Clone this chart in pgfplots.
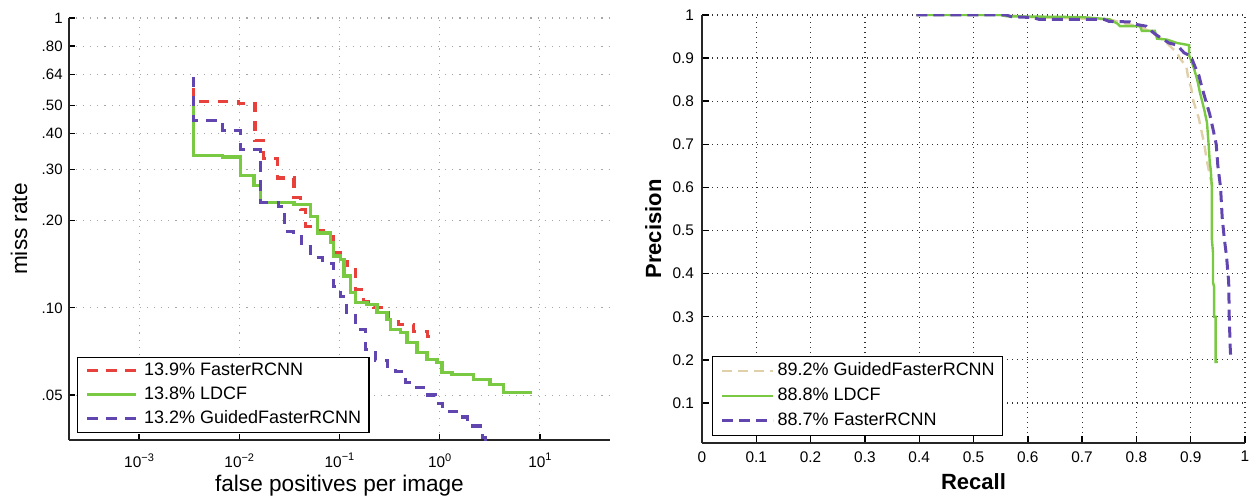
\documentclass[border=0pt]{standalone}
\usepackage{fontspec}
\setmainfont{Liberation Sans}
\usepackage{pgfplots}
\pgfplotsset{compat=1.18}
\definecolor{mred}{RGB}{232,64,58}
\definecolor{mgreen}{RGB}{122,201,67}
\definecolor{mpurple}{RGB}{98,70,175}
\definecolor{mbeige}{RGB}{224,208,170}
\newcommand{\tsup}[1]{10\raisebox{0.8ex}{\fontsize{5.5}{6}\selectfont #1}}
\begin{document}
\begin{tikzpicture}
\useasboundingbox (0,0) rectangle (625pt,249pt);
% ---------------- left: miss rate vs fppi ----------------
\begin{axis}[
  at={(34.5pt,29pt)}, anchor=south west,
  scale only axis, width=270.5pt, height=211pt,
  xmode=log, ymode=log, xmin=2e-4, xmax=50, ymin=0.035, ymax=1,
  axis x line*=bottom, axis y line*=left,
  axis line style={-, line width=0.75pt, black!85},
  xtick={1e-3,1e-2,1e-1,1,10},
  xticklabels={\tsup{−3},\tsup{−2},\tsup{−1},\tsup{0},\tsup{1}},
  ytick={0.05,0.1,0.2,0.3,0.4,0.5,0.64,0.8,1},
  yticklabels={.05,.10,.20,.30,.40,.50,.64,.80,1},
  xminorticks=false, yminorticks=false,
  tick align=inside, major tick length=3pt, tick style={black, line width=0.6pt},
  grid=major, major grid style={black!35, line width=0.55pt, dash pattern=on 0.55pt off 3pt},
  /pgf/number format/assume math mode=true,
  xticklabel style={font=\fontsize{7.7}{8}\selectfont, inner sep=0pt, anchor=north, yshift=-6.5pt},
  yticklabel style={font=\fontsize{7.5}{8}\selectfont, inner sep=0pt, anchor=east, xshift=-3pt},
  every axis x label/.style={at={(axis description cs:0.5,-0.1209)}, anchor=base, inner sep=0pt, font=\fontsize{11.3}{12}\selectfont},
  every axis y label/.style={at={(axis description cs:-0.0776,0.5)}, rotate=90, anchor=base, inner sep=0pt, font=\fontsize{11.3}{12}\selectfont},
  xlabel={false positives per image}, ylabel={miss rate},
  legend cell align=left,
  legend image code/.code={\draw[#1] (0pt,0pt) -- (24.5pt,0pt);},
  legend style={at={(0.0148,0.0166)}, anchor=south west, draw=black, line width=0.7pt,
    font=\fontsize{9}{10}\selectfont, inner xsep=4pt, inner ysep=2.75pt,
    row sep=4pt, column sep=3pt,
    nodes={inner sep=0pt, text height=6.5pt, text depth=1.5pt}},
]
\addplot[const plot, color=mred, line width=1.6pt, dash pattern=on 5.2pt off 4.3pt] coordinates {
(0.00347,0.574) (0.00347,0.515) (0.00989,0.506) (0.01435,0.3773) (0.01742,0.3270)
(0.0240,0.2806) (0.0351,0.2401) (0.0409,0.2184) (0.0459,0.1908) (0.0590,0.1848)
(0.0693,0.1762) (0.0871,0.1552) (0.1023,0.1446) (0.1202,0.1378) (0.1442,0.1158)
(0.1734,0.1053) (0.2178,0.1004) (0.3076,0.0898) (0.3864,0.0877) (0.5445,0.0830)
(0.7516,0.0798) (0.966,0.0798)};
\addlegendentry{13.9\% FasterRCNN}
\addplot[const plot, color=mgreen, line width=1.7pt] coordinates {
(0.00347,0.52) (0.00347,0.3357) (0.00681,0.3315) (0.01035,0.2858) (0.01403,0.2641)
(0.01637,0.2307) (0.0351,0.2271) (0.0514,0.2070) (0.0600,0.1815) (0.0813,0.1677)
(0.0871,0.1508) (0.1023,0.1469) (0.1104,0.1287) (0.1285,0.1128) (0.1442,0.1042)
(0.1888,0.1028) (0.2371,0.0962) (0.2985,0.0913) (0.3214,0.0843) (0.4046,0.0821)
(0.4720,0.0759) (0.593,0.0701) (0.746,0.0665) (0.937,0.0648) (1.05,0.0598)
(1.32,0.0590) (2.17,0.0567) (3.18,0.0545) (4.31,0.0510) (8.26,0.0510)};
\addlegendentry{13.8\% LDCF}
\addplot[const plot, color=mpurple, line width=1.6pt, dash pattern=on 5.2pt off 4.3pt] coordinates {
(0.00347,0.626) (0.00347,0.4418) (0.00686,0.4083) (0.01035,0.3512) (0.01637,0.2307)
(0.0247,0.2235) (0.0284,0.1833) (0.0348,0.1762) (0.0419,0.1628) (0.0514,0.1492)
(0.0678,0.1423) (0.0871,0.1186) (0.1023,0.1095) (0.1175,0.0965) (0.1442,0.0843)
(0.1816,0.0720) (0.2280,0.0660) (0.3006,0.0629) (0.3606,0.0604) (0.4541,0.0554)
(0.5321,0.0532) (0.6855,0.0500) (0.9016,0.0469) (1.059,0.0440) (1.600,0.0420)
(1.879,0.0391) (2.650,0.0358) (2.84,0.0339)};
\addlegendentry{13.2\% GuidedFasterRCNN}
\end{axis}
% ---------------- right: precision vs recall ----------------
\begin{axis}[
  at={(351pt,27.5pt)}, anchor=south west,
  scale only axis, width=271.5pt, height=214pt,
  xmin=0, xmax=1, ymin=0.007, ymax=1,
  axis x line*=bottom, axis y line*=left,
  axis line style={-, line width=0.8pt, black!85},
  xtick={0,0.1,0.2,0.3,0.4,0.5,0.6,0.7,0.8,0.9,1},
  xticklabels={0,0.1,0.2,0.3,0.4,0.5,0.6,0.7,0.8,0.9,1},
  ytick={0.1,0.2,0.3,0.4,0.5,0.6,0.7,0.8,0.9,1},
  yticklabels={0.1,0.2,0.3,0.4,0.5,0.6,0.7,0.8,0.9,1},
  xminorticks=false, yminorticks=false,
  tick align=inside, major tick length=3.5pt, tick style={black, line width=0.7pt},
  grid=major, major grid style={black!80, line width=0.6pt, dash pattern=on 0.6pt off 1.9pt},
  /pgf/number format/assume math mode=true,
  xticklabel style={font=\fontsize{7.7}{8}\selectfont, inner sep=0pt, anchor=north, yshift=-4pt},
  yticklabel style={font=\fontsize{7.7}{8}\selectfont, inner sep=0pt, anchor=east, xshift=-3.8pt},
  every axis x label/.style={at={(axis description cs:0.5,-0.1098)}, anchor=base, inner sep=0pt, font=\bfseries\fontsize{11}{12}\selectfont},
  every axis y label/.style={at={(axis description cs:-0.0755,0.5)}, rotate=90, anchor=base, inner sep=0pt, font=\bfseries\fontsize{11}{12}\selectfont},
  xlabel={Recall}, ylabel={Precision},
  legend cell align=left,
  legend image code/.code={\draw[#1] (0pt,0pt) -- (25.5pt,0pt);},
  legend style={at={(0.0184,0.0164)}, anchor=south west, draw=black, line width=0.7pt,
    font=\fontsize{9}{10}\selectfont, inner xsep=4pt, inner ysep=3.25pt,
    row sep=4.5pt, column sep=1.5pt,
    nodes={inner sep=0pt, text height=6.5pt, text depth=1.5pt}},
]
\addplot[color=mbeige, line width=1.2pt, dash pattern=on 5pt off 3pt] coordinates {
(0.395,1) (0.56,1) (0.6,0.995) (0.75,0.99) (0.78,0.98) (0.80,0.975) (0.82,0.965)
(0.84,0.95) (0.856,0.935) (0.875,0.912) (0.88,0.90) (0.892,0.88) (0.896,0.85)
(0.901,0.83) (0.905,0.80) (0.915,0.76) (0.92,0.73) (0.925,0.70) (0.93,0.66)
(0.935,0.63) (0.94,0.60)};
\addlegendentry{89.2\% GuidedFasterRCNN}
\addplot[color=mgreen, line width=1.2pt] coordinates {
(0.395,1) (0.55,1) (0.56,0.997) (0.70,0.995) (0.75,0.99) (0.765,0.98) (0.77,0.974)
(0.807,0.974) (0.81,0.963) (0.834,0.963) (0.838,0.945) (0.856,0.943) (0.875,0.935)
(0.897,0.93) (0.897,0.907) (0.905,0.88) (0.912,0.85) (0.917,0.82) (0.925,0.78)
(0.930,0.75) (0.933,0.70) (0.935,0.66) (0.937,0.64) (0.939,0.60) (0.939,0.48)
(0.941,0.45) (0.941,0.38) (0.943,0.37) (0.943,0.30) (0.946,0.30) (0.946,0.195)
(0.950,0.195)};
\addlegendentry{88.8\% LDCF}
\addplot[color=mpurple, line width=1.5pt, dash pattern=on 5.5pt off 3pt] coordinates {
(0.395,1) (0.56,1) (0.57,0.996) (0.61,0.994) (0.62,0.99) (0.74,0.99) (0.75,0.985)
(0.788,0.984) (0.80,0.978) (0.818,0.974) (0.83,0.96) (0.84,0.951) (0.86,0.935)
(0.875,0.93) (0.888,0.912) (0.90,0.905) (0.908,0.88) (0.915,0.86) (0.92,0.835)
(0.928,0.80) (0.935,0.77) (0.942,0.73) (0.947,0.70) (0.95,0.65) (0.955,0.60)
(0.958,0.53) (0.962,0.48) (0.966,0.44) (0.970,0.38) (0.971,0.30) (0.973,0.22)
(0.974,0.205)};
\addlegendentry{88.7\% FasterRCNN}
\end{axis}
\end{tikzpicture}
\end{document}
